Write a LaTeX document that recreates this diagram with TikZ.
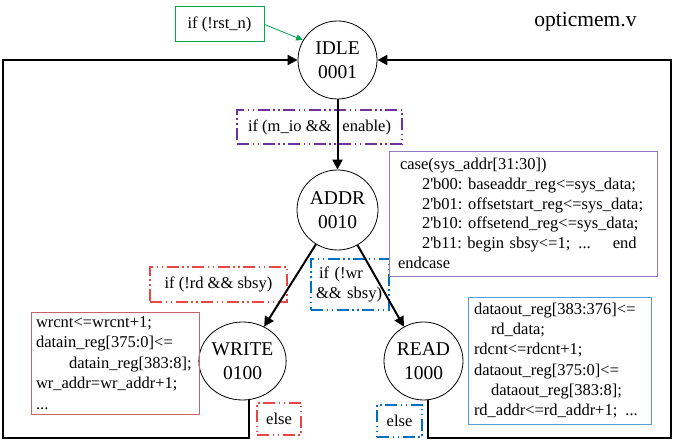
\documentclass[tikz,border=0pt]{standalone}
\usepackage{fontspec}
\setmainfont{Liberation Serif}
\usetikzlibrary{arrows.meta,shapes.geometric}
\definecolor{rstgreen}{RGB}{0,166,81}
\definecolor{ddpurple}{RGB}{112,48,160}
\definecolor{casepurple}{RGB}{150,120,190}
\definecolor{ddred}{RGB}{235,70,70}
\definecolor{codered}{RGB}{200,100,100}
\definecolor{ddblue}{RGB}{0,112,192}
\definecolor{codeblue}{RGB}{91,155,213}
\frenchspacing
\begin{document}
\begin{tikzpicture}[x=1pt,y=-1pt,
  state/.style={ellipse, draw, line width=0.8pt, align=center, inner sep=0pt,
    font=\fontsize{19.5}{24}\selectfont},
  lbl/.style={font=\fontsize{16.5}{19.7}\selectfont},
  ddbox/.style={rectangle, draw, line width=1.5pt, inner sep=0pt, lbl,
    dash pattern=on 12pt off 3.5pt on 1.5pt off 3.5pt on 1.5pt off 3.5pt},
  codebox/.style={rectangle, draw, line width=0.8pt, align=left, inner ysep=0pt, lbl},
  thickarrow/.style={line width=2pt, -{Triangle[length=10pt,width=10pt]}},
]
\useasboundingbox (0,0) rectangle (675,443);

% states
\node[state, minimum width=79pt, minimum height=78pt] (idle) at (337.5,60) {IDLE\\0001};
\node[state, minimum width=81pt, minimum height=80pt] (addr) at (337.5,210) {ADDR\\0010};
\node[state, minimum width=69pt, minimum height=78pt] (write) at (242.5,361) {WRITE\\0100};
\node[state, minimum width=79pt, minimum height=78pt] (read) at (423.5,361) {READ\\1000};

% title
\node[font=\fontsize{21.5}{24}\selectfont] (title) at (585.5,22) {opticmem.v};

% condition boxes
\node[rectangle, draw=rstgreen, line width=1pt, lbl, minimum width=89pt, minimum height=35pt, inner sep=0pt] (rst) at (219.5,24.5) {if (!rst\_n)};
\node[ddbox, draw=ddpurple, minimum width=165pt, minimum height=34pt] (mio) at (319.5,127) {if (m\_io \&\&\hspace{11pt}enable)};
\node[ddbox, draw=ddred, minimum width=137pt, minimum height=35pt] (ifrd) at (218.5,284.5) {if (!rd \&\& sbsy)};
\node[ddbox, draw=ddblue, minimum width=78pt, minimum height=51pt, inner xsep=5pt, text width=68pt, align=left] (ifwr) at (350,284.5) {\hspace*{3pt}if (!wr\\\&\& sbsy)};
\node[ddbox, draw=ddred, minimum width=44pt, minimum height=32pt] (elsew) at (279,419) {else};
\node[ddbox, draw=ddblue, minimum width=45pt, minimum height=32pt] (elser) at (399.5,421) {else};

% code boxes
\node[codebox, draw=casepurple, minimum width=268pt, minimum height=125pt, inner xsep=9pt, text width=250pt] (casebox) at (523,213.5)
  {\hspace*{2pt}case(sys\_addr[31:30])\\
   \hspace*{24pt}2\textquotesingle b00: baseaddr\_reg<=sys\_data;\\
   \hspace*{24pt}2\textquotesingle b01: offsetstart\_reg<=sys\_data;\\
   \hspace*{24pt}2\textquotesingle b10: offsetend\_reg<=sys\_data;\\
   \hspace*{24pt}2\textquotesingle b11: begin sbsy<=1;\hspace{8pt}...\hspace{22pt}end\\
   endcase};
\node[codebox, draw=codered, minimum width=168pt, minimum height=102pt, inner xsep=5pt, text width=158pt,
  font=\fontsize{16.5}{20.5}\selectfont] (wrcode) at (115,363)
  {wrcnt<=wrcnt+1;\\
   datain\_reg[375:0]<=\\
   \hspace*{33pt}datain\_reg[383:8];\\
   wr\_addr=wr\_addr+1;\\
   ...};
\node[codebox, draw=codeblue, minimum width=183pt, minimum height=127pt, inner xsep=6pt, text width=171pt,
  font=\fontsize{16.5}{20.2}\selectfont] (rdcode) at (559.5,360.5)
  {dataout\_reg[383:376]<=\\
   \hspace*{17pt}rd\_data;\\
   rdcnt<=rdcnt+1;\\
   dataout\_reg[375:0]<=\\
   \hspace*{17pt}dataout\_reg[383:8];\\
   rd\_addr<=rd\_addr+1;\hspace{8pt}...};

% loop corners
\coordinate (bl) at (3,438);
\coordinate (br) at (671,438);

% connectors
\draw[rstgreen, line width=0.8pt, -{Triangle[length=7pt,width=6pt]}] (rst.east) -- (idle.150);
\draw[thickarrow] (idle.south) -- (addr.north);
\draw[thickarrow] (addr) -- (write);
\draw[thickarrow] (addr) -- (read);
\draw[thickarrow] (write.-80) |- (bl) |- (idle.west);
\draw[thickarrow] (read.-83) |- (br) |- (idle.east);
\end{tikzpicture}
\end{document}
